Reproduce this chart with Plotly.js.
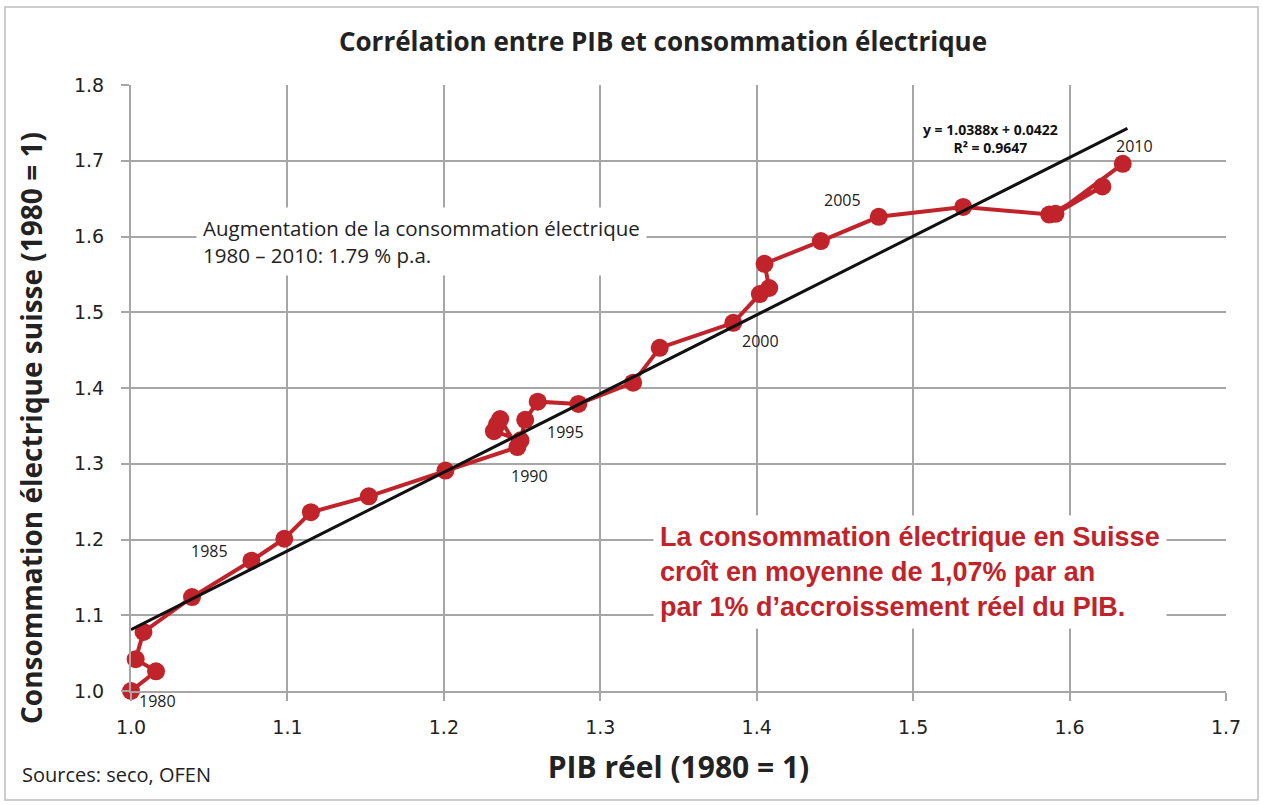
<!DOCTYPE html>
<html>
<head>
<meta charset="utf-8">
<script src="https://cdn.plot.ly/plotly-3.0.1.min.js"></script>
<style>
  html, body { margin: 0; padding: 0; background: #ffffff; }
  #chart { width: 1263px; height: 805px; }
</style>
</head>
<body>
<div id="chart"></div>
<script>
// ---- Data ----
const years = [1980,1981,1982,1983,1984,1985,1986,1987,1988,1989,
               1990,1991,1992,1993,1994,1995,1996,1997,1998,1999,
               2000,2001,2002,2003,2004,2005,2006,2007,2008,2009,2010];
const pibReel = [1.000,1.016,1.003,1.008,1.039,1.077,1.098,1.115,1.152,1.201,
                 1.247,1.236,1.234,1.232,1.249,1.252,1.260,1.286,1.321,1.338,
                 1.385,1.402,1.408,1.405,1.441,1.478,1.532,1.587,1.621,1.591,1.634];
const consoElec = [1.000,1.026,1.042,1.078,1.124,1.172,1.201,1.236,1.257,1.291,
                   1.322,1.359,1.352,1.343,1.331,1.358,1.382,1.379,1.407,1.453,
                   1.486,1.524,1.532,1.564,1.594,1.626,1.639,1.629,1.666,1.630,1.696];
const labelledYears = [1980,1985,1990,1995,2000,2005,2010];
const trendSlope = [1.0388];
const trendIntercept = [0.0422];
const trendR2 = [0.9647];
const xTicks = [1.0,1.1,1.2,1.3,1.4,1.5,1.6,1.7];
const yTicks = [1.0,1.1,1.2,1.3,1.4,1.5,1.6,1.7,1.8];

// ---- Styling / layout helpers ----
const RED = '#c1232b';
const W = 1263, H = 805;
const M = {l: 131, r: 37, t: 85, b: 114};
const PW = W - M.l - M.r, PH = H - M.t - M.b;
const px2x = p => (p - M.l) / PW;
const px2y = p => 1 - (p - M.t) / PH;
const calibri = '"Open Sans", Carlito, sans-serif';

// trend line across the data range
const xMin = Math.min(...pibReel), xMax = Math.max(...pibReel);
const trendX = [xMin, xMax + 0.003];
const trendY = trendX.map(v => trendSlope[0] * v + trendIntercept[0]);

const traces = [
  {
    x: pibReel, y: consoElec, text: years.map(String),
    mode: 'lines+markers', type: 'scatter', cliponaxis: false,
    line: {color: RED, width: 4},
    marker: {color: RED, size: 18},
    hovertemplate: '%{text}: PIB %{x:.3f}, conso %{y:.3f}<extra></extra>',
    showlegend: false
  },
  {
    x: trendX, y: trendY, mode: 'lines', type: 'scatter', cliponaxis: false,
    line: {color: '#111111', width: 3},
    hoverinfo: 'skip', showlegend: false
  }
];

// year label offsets (pixels) relative to their point
const yearOffsets = {
  1980: [26, -10], 1985: [-42, 10], 1990: [12, -29], 1995: [40, -12],
  2000: [27, -18], 2005: [-36, 17], 2010: [12, 18]
};

const annotations = labelledYears.map(yr => {
  const i = years.indexOf(yr);
  return {
    x: pibReel[i], y: consoElec[i], xref: 'x', yref: 'y',
    text: String(yr), showarrow: false,
    xshift: yearOffsets[yr][0], yshift: yearOffsets[yr][1],
    font: {family: 'Open Sans, sans-serif', size: 16, color: '#222222'}
  };
});

annotations.push({
  xref: 'paper', yref: 'paper', x: px2x(990), y: px2y(138),
  xanchor: 'center', yanchor: 'middle', showarrow: false, align: 'center',
  text: '<b>y = ' + trendSlope[0].toFixed(4) + 'x + ' + trendIntercept[0].toFixed(4) +
        '<br>R² = ' + trendR2[0].toFixed(4) + '</b>',
  font: {family: 'Open Sans, sans-serif', size: 14, color: '#111111'}
});

annotations.push({
  xref: 'paper', yref: 'paper', x: px2x(196), y: px2y(241),
  xanchor: 'left', yanchor: 'middle', showarrow: false, align: 'left',
  text: 'Augmentation de la consommation électrique<br>1980 – 2010: 1.79 % p.a.',
  bgcolor: '#ffffff', borderpad: 6,
  font: {family: 'Open Sans, sans-serif', size: 20.5, color: '#222222'}
});

annotations.push({
  xref: 'paper', yref: 'paper', x: px2x(653), y: px2y(572),
  xanchor: 'left', yanchor: 'middle', showarrow: false, align: 'left',
  text: '<b>La consommation électrique en Suisse<br>croît en moyenne de 1,07% par an<br>par 1% d’accroissement réel du PIB.</b>',
  bgcolor: '#ffffff', borderpad: 6,
  font: {family: '"Liberation Sans", Arial, sans-serif', size: 27, color: RED}
});

annotations.push({
  xref: 'paper', yref: 'paper', x: px2x(20), y: px2y(775),
  xanchor: 'left', yanchor: 'middle', showarrow: false,
  text: 'Sources: seco, OFEN',
  font: {family: calibri, size: 20, color: '#222222'}
});

// y-axis title placed as rotated text (centred as in the reference)
annotations.push({
  xref: 'paper', yref: 'paper', x: px2x(31), y: px2y(428),
  xanchor: 'center', yanchor: 'middle', showarrow: false, textangle: -90,
  text: '<b>Consommation électrique suisse (1980 = 1)</b>',
  font: {family: calibri, size: 28, color: '#222222'}
});

const layout = {
  width: W, height: H,
  margin: M,
  paper_bgcolor: '#ffffff', plot_bgcolor: '#ffffff',
  title: {
    text: '<b>Corrélation entre PIB et consommation électrique</b>',
    x: 663 / W, xref: 'container', xanchor: 'center',
    y: 1 - 42 / H, yref: 'container', yanchor: 'middle',
    font: {family: calibri, size: 26, color: '#222222'}
  },
  xaxis: {
    range: [1.0, 1.7], tickvals: xTicks, ticktext: xTicks.map(v => v.toFixed(1)),
    showgrid: true, gridcolor: '#a6a6a6', gridwidth: 2,
    showline: true, linecolor: '#a6a6a6', linewidth: 2,
    ticks: 'outside', ticklen: 8, tickcolor: '#a6a6a6', tickwidth: 2,
    ticklabelstandoff: 10,
    zeroline: false,
    tickfont: {family: '"DejaVu Sans", Verdana, sans-serif', size: 19, color: '#222222'},
    title: {text: '<b>PIB réel (1980 = 1)</b>', standoff: 20,
            font: {family: calibri, size: 30, color: '#222222'}}
  },
  yaxis: {
    range: [1.0, 1.8], tickvals: yTicks, ticktext: yTicks.map(v => v.toFixed(1)),
    showgrid: true, gridcolor: '#a6a6a6', gridwidth: 2,
    showline: true, linecolor: '#a6a6a6', linewidth: 2,
    ticks: 'outside', ticklen: 8, tickcolor: '#a6a6a6', tickwidth: 2,
    ticklabelstandoff: 13,
    zeroline: false,
    tickfont: {family: '"DejaVu Sans", Verdana, sans-serif', size: 19, color: '#222222'}
  },
  annotations: annotations,
  shapes: [{
    type: 'rect', xref: 'paper', yref: 'paper', layer: 'below',
    x0: px2x(5), x1: px2x(1258), y0: px2y(800), y1: px2y(7),
    line: {color: '#bdbdbd', width: 1.5}, fillcolor: 'rgba(0,0,0,0)'
  }]
};

Plotly.newPlot('chart', traces, layout, {displayModeBar: false});
</script>
</body>
</html>
